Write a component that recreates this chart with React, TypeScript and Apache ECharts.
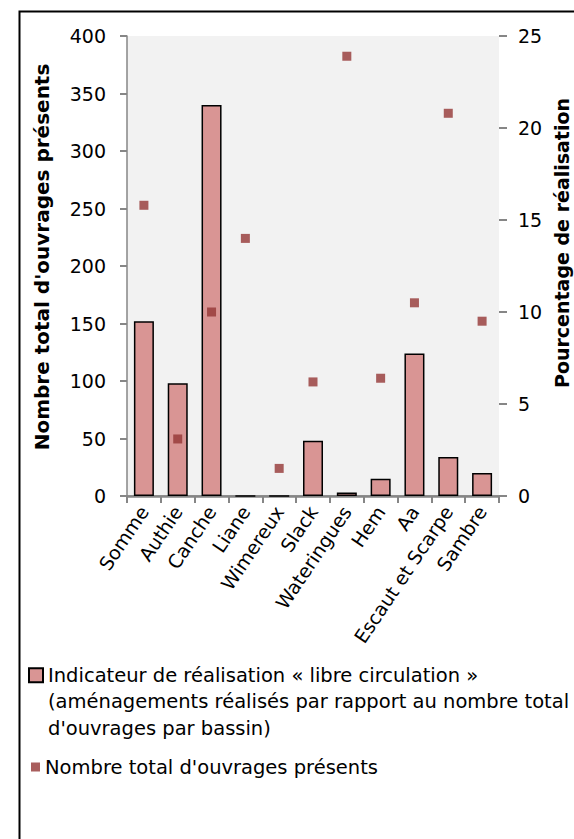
import React, { useEffect, useRef } from "react";
import * as echarts from "echarts";

const categories = ["Somme", "Authie", "Canche", "Liane", "Wimereux", "Slack", "Wateringues", "Hem", "Aa", "Escaut et Scarpe", "Sambre"];
const barValues = [152, 98, 340, 0, 0, 48, 3, 15, 124, 34, 20];
const pointValues = [15.8, 3.1, 10.0, 14.0, 1.5, 6.2, 23.9, 6.4, 10.5, 20.8, 9.5];
const leftTicks = { min: 0, max: 400, interval: 50 };
const rightTicks = { min: 0, max: 25, interval: 5 };
const barName = "Indicateur de réalisation « libre circulation » (aménagements réalisés par rapport au nombre total d'ouvrages par bassin)";
const barLegendLines = [
  "Indicateur de réalisation « libre circulation »",
  "(aménagements réalisés par rapport au nombre total",
  "d'ouvrages par bassin)",
];
const pointName = "Nombre total d'ouvrages présents";
const leftAxisName = "Nombre total d'ouvrages présents";
const rightAxisName = "Pourcentage de réalisation";

const FONT = "'DejaVu Sans', 'Liberation Sans', sans-serif";

export default function App() {
  const ref = useRef<HTMLDivElement>(null);
  useEffect(() => {
    if (!ref.current) return;
    const chart = echarts.init(ref.current, undefined, { renderer: "svg" });
    const axisGray = "#868686";
    chart.setOption({
      animation: false,
      backgroundColor: "#ffffff",
      textStyle: { fontFamily: FONT },
      grid: {
        left: 127,
        right: 75,
        top: 36,
        bottom: 343,
        show: true,
        backgroundColor: "#F2F2F2",
        borderWidth: 0,
      },
      xAxis: [
        {
          type: "category",
          data: categories,
          axisLine: { lineStyle: { color: axisGray, width: 2.5 } },
          axisTick: { show: true, length: 7, lineStyle: { color: axisGray, width: 2 } },
          axisLabel: {
            rotate: 56,
            interval: 0,
            margin: 12,
            color: "#000",
            fontSize: 19,
            fontFamily: FONT,
          },
        },
        {
          type: "category",
          data: categories,
          position: "top",
          axisLine: { lineStyle: { color: axisGray, width: 1.5 } },
          axisTick: { show: false },
          axisLabel: { show: false },
        },
      ],
      yAxis: [
        {
          type: "value",
          ...leftTicks,
          position: "left",
          axisLine: { show: true, lineStyle: { color: axisGray, width: 1.5 } },
          axisTick: { show: true, length: 7, lineStyle: { color: axisGray, width: 2 } },
          axisLabel: { color: "#000", fontSize: 19, margin: 21, fontFamily: FONT },
          splitLine: { show: false },
        },
        {
          type: "value",
          ...rightTicks,
          position: "right",
          axisLine: { show: false },
          axisTick: { show: true, length: 8, lineStyle: { color: axisGray, width: 2 } },
          axisLabel: { color: "#000", fontSize: 19, margin: 19, fontFamily: FONT },
          splitLine: { show: false },
        },
      ],
      legend: [
        {
          orient: "vertical",
          left: 28,
          top: 609,
          padding: 0,
          data: [barName],
          itemWidth: 14,
          itemHeight: 14,
          icon: "rect",
          formatter: () => "\n\n" + barLegendLines.join("\n"),
          textStyle: {
            color: "#000",
            fontSize: 19.5,
            lineHeight: 26.5,
            fontFamily: FONT,
          },
          itemGap: 0,
        },
        {
          orient: "vertical",
          left: 31,
          top: 754,
          padding: 0,
          data: [pointName],
          itemWidth: 9,
          itemHeight: 9,
          icon: "rect",
          textStyle: { color: "#000", fontSize: 19.5, lineHeight: 26, fontFamily: FONT },
        },
      ],
      series: [
        {
          name: barName,
          type: "bar",
          xAxisIndex: 0,
          yAxisIndex: 0,
          data: barValues,
          barWidth: 20,
          itemStyle: { color: "#D99594", borderColor: "#000", borderWidth: 1.5 },
        },
        {
          name: pointName,
          type: "scatter",
          xAxisIndex: 0,
          yAxisIndex: 1,
          data: pointValues,
          symbol: "rect",
          symbolSize: 9,
          itemStyle: { color: "#943634" },
        },
      ],
      graphic: [
        {
          type: "rect",
          left: 17,
          top: 9,
          shape: { width: 620, height: 900 },
          style: { fill: "none", stroke: "#000", lineWidth: 2 },
          silent: true,
        },
        {
          type: "text",
          x: 42,
          y: 257,
          rotation: Math.PI / 2,
          style: {
            text: leftAxisName,
            fontSize: 20,
            fontWeight: "bold",
            fontFamily: FONT,
            fill: "#000",
            align: "center",
            verticalAlign: "middle",
          },
        },
        {
          type: "text",
          x: 562,
          y: 243,
          rotation: Math.PI / 2,
          style: {
            text: rightAxisName,
            fontSize: 19,
            fontWeight: "bold",
            fontFamily: FONT,
            fill: "#000",
            align: "center",
            verticalAlign: "middle",
          },
        },
      ],
    });
    return () => chart.dispose();
  }, []);
  return (
    <div
      ref={ref}
      style={{ position: "fixed", left: 0, top: 0, width: 574, height: 839, background: "#fff" }}
    />
  );
}
